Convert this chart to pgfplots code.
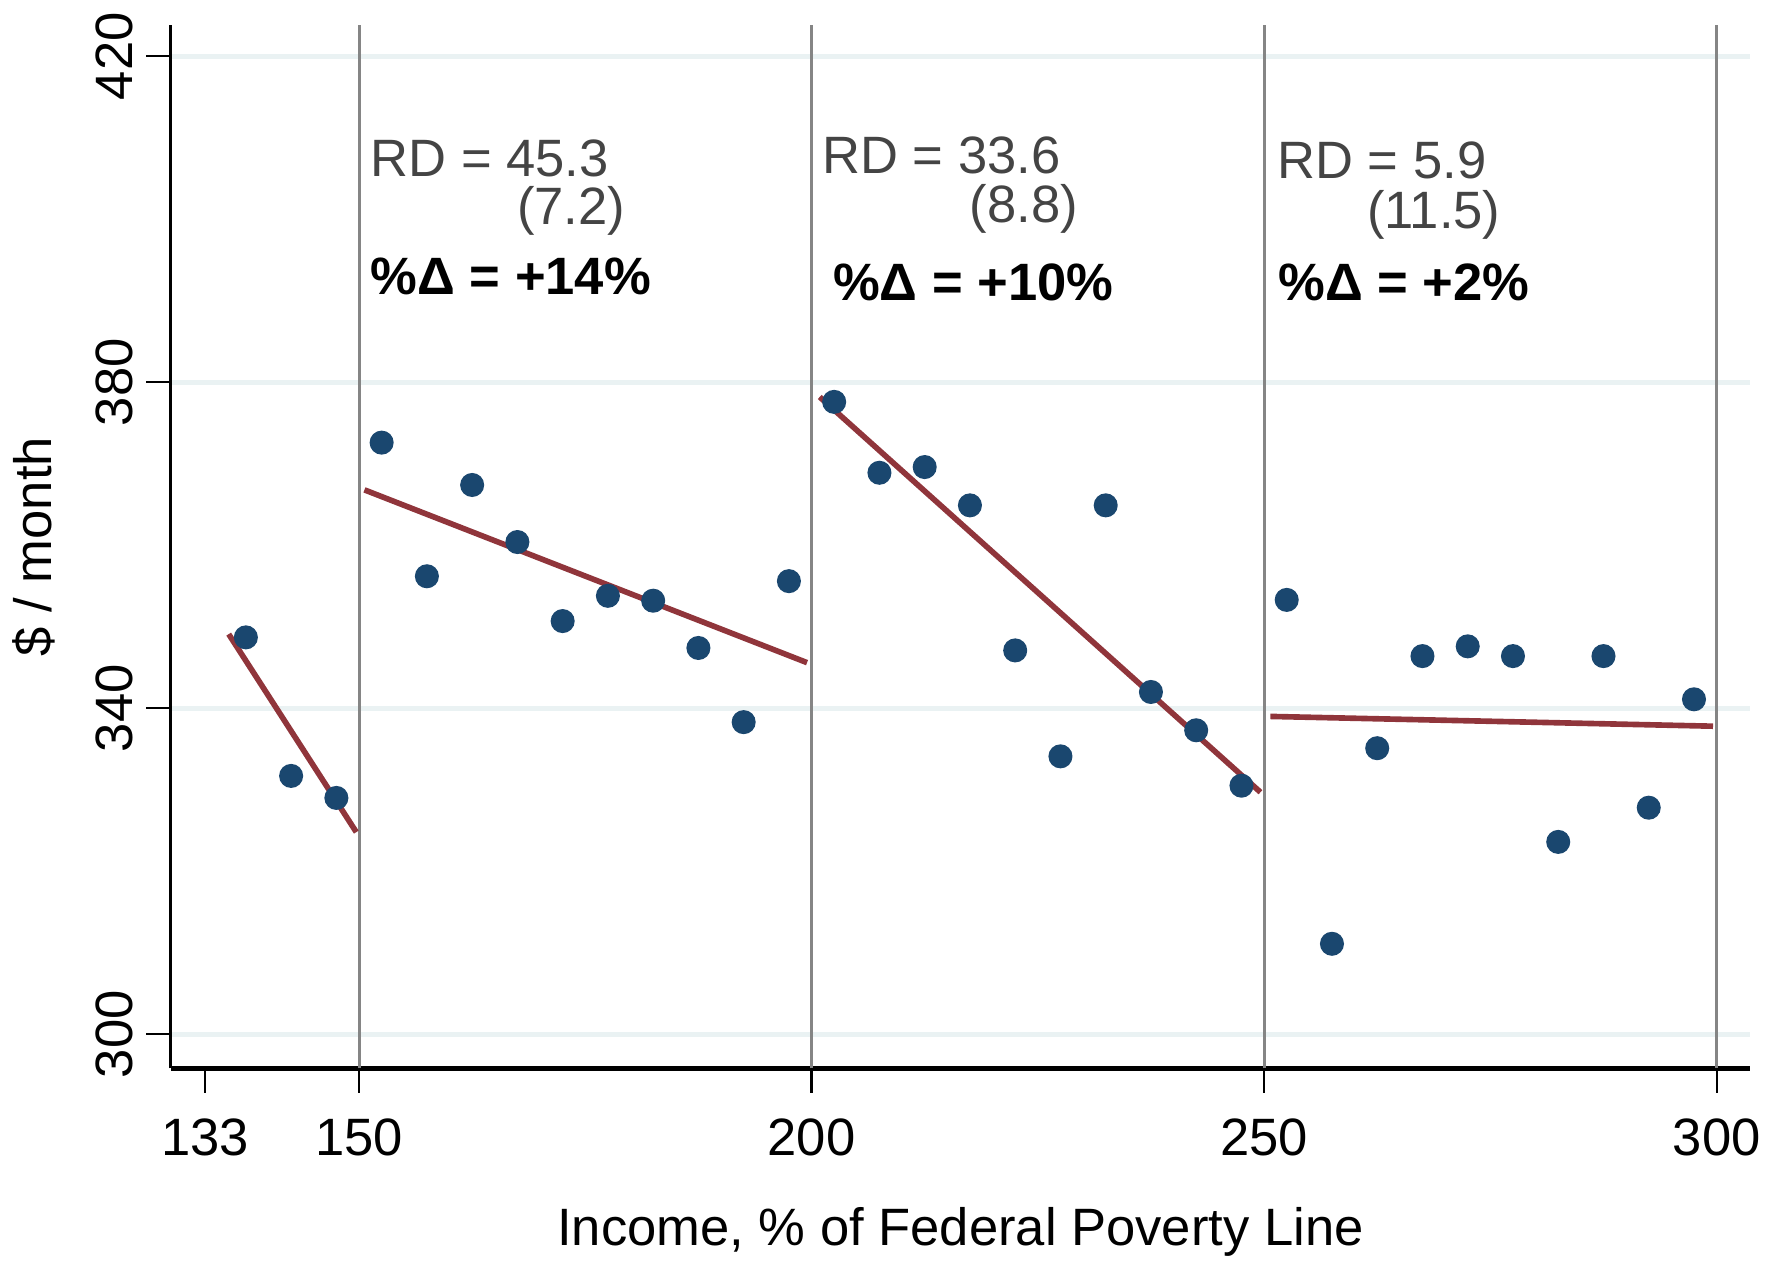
\documentclass[border=0pt]{standalone}
\usepackage{fontspec}
\setmainfont{Liberation Sans}
\usepackage{pgfplots}
\pgfplotsset{compat=1.18}
\definecolor{navy}{HTML}{1A476F}
\definecolor{maroon}{HTML}{90353B}
\definecolor{gridc}{HTML}{EAF2F3}
\definecolor{cutc}{HTML}{858585}
\definecolor{rdgray}{HTML}{444444}
\newcommand{\bigfont}{\fontsize{14}{17}\selectfont}

\begin{document}
\begin{tikzpicture}
\begin{axis}[
  scale only axis,
  width=420.6pt, height=278pt,
  xmin=129.2, xmax=303.7, ymin=295.8, ymax=423.9,
  axis x line=bottom, axis y line=left,
  axis line style={-},
  x axis line style={line width=1.3pt},
  y axis line style={line width=0.8pt},
  tick align=outside,
  major tick length=6.5pt,
  tick style={black, line width=0.6pt},
  xtick={133,150,200,250,300},
  ytick={300,340,380,420},
  ymajorgrids,
  major grid style={gridc, line width=1.4pt},
  tick label style={font=\bigfont},
  /pgf/number format/assume math mode=true,
  yticklabel style={rotate=90, anchor=south},
  xticklabel shift=3.5pt,
  label style={font=\bigfont},
  xlabel={Income, \% of Federal Poverty Line},
  ylabel={\$ / month},
  xlabel style={inner sep=1pt},
  xlabel shift=9pt,
  ylabel shift=4pt,
  clip=false,
]
% cutoffs
\addplot[cutc, line width=0.8pt] coordinates {(150,295.8) (150,423.9)};
\addplot[cutc, line width=0.8pt] coordinates {(200,295.8) (200,423.9)};
\addplot[cutc, line width=0.8pt] coordinates {(250,295.8) (250,423.9)};
\addplot[cutc, line width=0.8pt] coordinates {(300,295.8) (300,423.9)};

% binned means
\addplot[only marks, mark=*, mark size=3pt, navy] coordinates {
  (137.5,348.7) (142.5,331.7) (147.5,329.0)
  (152.5,372.6) (157.5,356.2) (162.5,367.4) (167.5,360.4) (172.5,350.7)
  (177.5,353.8) (182.5,353.2) (187.5,347.4) (192.5,338.3) (197.5,355.6)
  (202.5,377.6) (207.5,368.9) (212.5,369.6) (217.5,364.9) (222.5,347.1)
  (227.5,334.1) (232.5,364.9) (237.5,342.0) (242.5,337.3) (247.5,330.5)
  (252.5,353.3) (257.5,311.1) (262.5,335.1) (267.5,346.4) (272.5,347.6)
  (277.5,346.4) (282.5,323.6) (287.5,346.4) (292.5,327.8) (297.5,341.1)
};

% linear fits within each bracket
\addplot[maroon, line width=1.5pt] coordinates {(135.6,349.1) (149.7,324.8)};
\addplot[maroon, line width=1.5pt] coordinates {(150.6,366.8) (199.5,345.6)};
\addplot[maroon, line width=1.5pt] coordinates {(200.9,378.2) (249.6,329.7)};
\addplot[maroon, line width=1.5pt] coordinates {(250.7,339.0) (299.6,337.8)};

% estimates
\node[anchor=west, rdgray, font=\bigfont, inner sep=0pt] at (axis cs:151.2,407.5) {RD = 45.3};
\node[anchor=east, rdgray, font=\bigfont, inner sep=0pt] at (axis cs:179.5,401.0) {(7.2)};
\node[anchor=west, font=\bigfont\bfseries, inner sep=0pt] at (axis cs:151.2,393.0) {\%Δ = +14\%};

\node[anchor=west, rdgray, font=\bigfont, inner sep=0pt] at (axis cs:201.1,407.8) {RD = 33.6};
\node[anchor=east, rdgray, font=\bigfont, inner sep=0pt] at (axis cs:229.5,401.3) {(8.8)};
\node[anchor=west, font=\bigfont\bfseries, inner sep=0pt] at (axis cs:202.3,392.3) {\%Δ = +10\%};

\node[anchor=west, rdgray, font=\bigfont, inner sep=0pt] at (axis cs:251.4,407.2) {RD = 5.9};
\node[anchor=east, rdgray, font=\bigfont, inner sep=0pt] at (axis cs:276.2,400.6) {(11.5)};
\node[anchor=west, font=\bigfont\bfseries, inner sep=0pt] at (axis cs:251.5,392.3) {\%Δ = +2\%};
\end{axis}
\end{tikzpicture}
\end{document}
